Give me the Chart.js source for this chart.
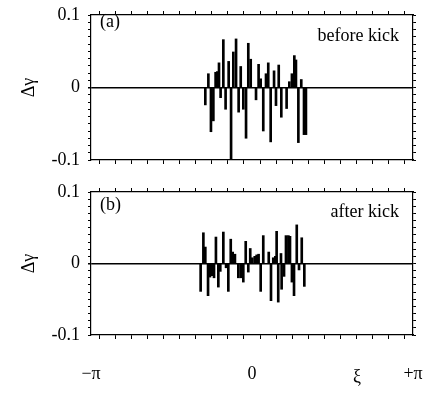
<!DOCTYPE html>
<html><head><meta charset="utf-8">
<script src="https://cdn.jsdelivr.net/npm/chart.js@4/dist/chart.umd.min.js"></script>
<style>
html,body{margin:0;padding:0;background:#fff;}
#wrap{position:relative;width:426px;height:397px;overflow:hidden;}
canvas{position:absolute;left:0;}
</style>
</head><body>
<div id="wrap">
<canvas id="c1" width="426" height="175" style="top:0px"></canvas>
<canvas id="c2" width="426" height="222" style="top:175px"></canvas>
</div>
<script>
// ξ positions in units of π, Δγ values
const xiBefore = [-0.290,-0.271,-0.255,-0.240,-0.226,-0.215,-0.205,-0.195,-0.178,-0.164,-0.145,-0.130,-0.116,-0.099,-0.083,-0.070,-0.054,-0.037,-0.023,-0.008,0.025,0.041,0.054,0.070,0.087,0.101,0.116,0.137,0.149,0.166,0.182,0.215,0.232,0.248,0.263,0.273,0.288,0.306,0.323,0.335];
const dgBefore = [-0.024,0.019,-0.061,-0.046,0.021,0.022,0.034,-0.014,0.066,-0.030,0.036,-0.100,0.049,0.067,-0.034,0.029,-0.030,-0.070,0.061,0.039,-0.017,0.032,0.012,-0.060,0.019,0.034,-0.075,0.023,-0.025,0.031,-0.041,-0.029,0.008,0.019,0.044,0.038,-0.076,0.011,-0.065,-0.065];
const xiAfter = [-0.319,-0.302,-0.290,-0.273,-0.261,-0.248,-0.236,-0.224,-0.209,-0.197,-0.178,-0.161,-0.147,-0.132,-0.120,-0.106,-0.085,-0.070,-0.054,-0.039,-0.023,-0.011,0.002,0.017,0.029,0.041,0.054,0.070,0.104,0.118,0.132,0.145,0.153,0.163,0.180,0.184,0.199,0.211,0.226,0.236,0.248,0.261,0.278,0.292,0.309,0.325];
const dgAfter = [-0.039,0.043,0.023,-0.045,-0.019,-0.017,-0.020,0.037,-0.033,-0.011,0.044,-0.006,-0.039,0.034,0.016,0.013,-0.020,-0.020,-0.026,0.031,-0.012,0.021,0.008,0.010,0.012,0.013,-0.039,0.039,0.016,-0.052,0.008,0.010,0.045,-0.054,0.014,-0.036,-0.018,0.039,0.039,0.038,-0.026,-0.045,0.054,-0.009,0.036,-0.032];
const xTickValues = [-1, 0, 1];
const xTickLabels = ['\u2212\u03c0', '0', '+\u03c0'];
const yTickValues = [-0.1, 0, 0.1];
const yTickLabels = ['-0.1', '0', '0.1'];
const yTitle = '\u0394\u03b3';
const xTitle = '\u03be';

Chart.defaults.font.family = "'Liberation Serif', 'DejaVu Serif', serif";
Chart.defaults.font.size = 18;
Chart.defaults.color = '#000';

function labelFor(vals, labels, v) {
  const i = vals.findIndex(t => Math.abs(t - v) < 1e-6);
  return i >= 0 ? labels[i] : '';
}

function makeChart(id, xs, ys, cfg) {
  const pts = xs.map((x, i) => ({x: x, y: ys[i]}));
  const textPlugin = {
    id: 'notes',
    afterDraw(chart) {
      const ctx = chart.ctx, a = chart.chartArea;
      ctx.save();
      ctx.fillStyle = '#000';
      ctx.font = "18px 'Liberation Serif', serif";
      ctx.textBaseline = 'alphabetic';
      ctx.textAlign = 'left';
      ctx.fillText(cfg.panel, a.left + 9, a.top + cfg.panelDy);
      ctx.textAlign = 'right';
      ctx.fillText(cfg.note, a.right - 14, a.top + cfg.noteDy);
      if (cfg.showX) {
        ctx.textAlign = 'center';
        ctx.fillText(xTitle, a.left + 266, a.bottom + 47);
      }
      ctx.restore();
    }
  };
  const common = {min: -1, max: 1, type: 'linear', offset: false};
  const noPad = s => { s.paddingLeft = 0; s.paddingRight = 0; s.paddingTop = 0; s.paddingBottom = 0; };
  return new Chart(document.getElementById(id), {
    type: 'bar',
    data: {datasets: [{data: pts, backgroundColor: '#000', borderWidth: 0, barThickness: 2}]},
    options: {
      responsive: false, animation: false,
      plugins: {legend: {display: false}, tooltip: {enabled: false}},
      layout: {padding: 0},
      scales: {
        x: Object.assign({}, common, {
          position: 'bottom',
          grid: {drawOnChartArea: false, tickLength: 4, color: '#000', tickColor: '#000'},
          border: {display: true, color: '#000', width: 1.2},
          ticks: {stepSize: 0.1, autoSkip: false, maxRotation: 0, display: cfg.showX, padding: 24,
            callback: (v) => labelFor(xTickValues, xTickLabels, v)},
          afterFit: s => { s.height = cfg.bottomH; noPad(s); }
        }),
        x2: Object.assign({}, common, {
          position: 'top',
          grid: {drawOnChartArea: false, tickLength: 4, color: '#000', tickColor: '#000'},
          border: {display: true, color: '#000', width: 1.2},
          ticks: {stepSize: 0.1, autoSkip: false, display: false},
          afterFit: s => { s.height = cfg.topH; noPad(s); }
        }),
        y: {
          type: 'linear', min: -0.1, max: 0.1, position: 'left',
          grid: {
            drawOnChartArea: true, tickLength: 3, tickColor: '#000',
            color: c => (c.tick && Math.abs(c.tick.value) < 1e-9) ? '#000' : 'rgba(0,0,0,0)',
            lineWidth: c => (c.tick && Math.abs(c.tick.value) < 1e-9) ? 1.6 : 1
          },
          border: {display: true, color: '#000', width: 1.2},
          ticks: {stepSize: 0.01, autoSkip: false, padding: 8,
            callback: (v) => labelFor(yTickValues, yTickLabels, v)},
          title: {display: true, text: yTitle, padding: {top: 18, bottom: 0}},
          afterFit: s => { s.width = 91; noPad(s); }
        },
        y2: {
          type: 'linear', min: -0.1, max: 0.1, position: 'right',
          grid: {drawOnChartArea: false, tickLength: 3, color: '#000', tickColor: '#000'},
          border: {display: true, color: '#000', width: 1.2},
          ticks: {stepSize: 0.01, autoSkip: false, display: false},
          afterFit: s => { s.width = 13; noPad(s); }
        }
      }
    },
    plugins: [textPlugin]
  });
}

makeChart('c1', xiBefore, dgBefore, {topH: 15, bottomH: 15, showX: false, panel: '(a)', panelDy: 12, note: 'before kick', noteDy: 26});
makeChart('c2', xiAfter, dgAfter, {topH: 17, bottomH: 62, showX: true, panel: '(b)', panelDy: 18, note: 'after kick', noteDy: 25});
</script>
</body></html>
